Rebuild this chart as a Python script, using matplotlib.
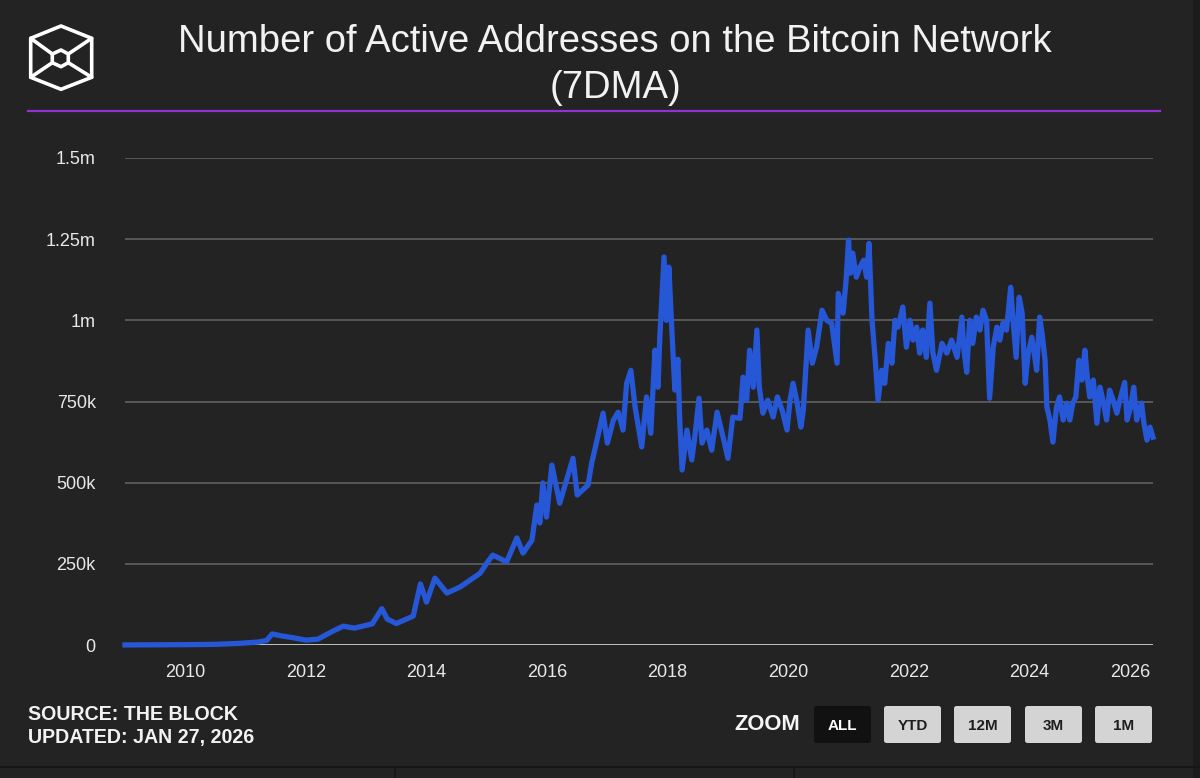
import numpy as np
import matplotlib
matplotlib.use("Agg")
import matplotlib.pyplot as plt
from matplotlib.patches import FancyBboxPatch, Polygon, Rectangle

plt.rcParams['font.family'] = ['Liberation Sans', 'DejaVu Sans']

# 数値はグラフから読み取った概算値（年は小数表記、値は千アドレス）
years = [2009.0, 2009.5, 2010.0, 2010.5, 2010.9, 2011.2, 2011.35, 2011.44, 2011.6, 2011.8,
         2012.0, 2012.2, 2012.45, 2012.62, 2012.8, 2013.1, 2013.26, 2013.35, 2013.5, 2013.78,
         2013.9, 2014.0, 2014.14, 2014.34, 2014.56, 2014.89, 2015.0, 2015.1, 2015.33, 2015.5,
         2015.6, 2015.75, 2015.83, 2015.88, 2015.93, 2015.99, 2016.08, 2016.21, 2016.43, 2016.5,
         2016.68, 2016.74, 2016.79, 2016.93, 2017.0, 2017.1, 2017.18, 2017.26, 2017.32, 2017.39,
         2017.46, 2017.57, 2017.65, 2017.72, 2017.79, 2017.84, 2017.87, 2017.94, 2017.98, 2018.02,
         2018.07, 2018.12, 2018.17, 2018.2, 2018.24, 2018.32, 2018.4, 2018.45, 2018.52, 2018.57,
         2018.65, 2018.73, 2018.82, 2018.92, 2019.0, 2019.08, 2019.2, 2019.25, 2019.31, 2019.36,
         2019.42, 2019.48, 2019.52, 2019.58, 2019.66, 2019.75, 2019.82, 2019.9, 2019.98, 2020.03,
         2020.08, 2020.14, 2020.21, 2020.25, 2020.33, 2020.4, 2020.47, 2020.56, 2020.64, 2020.72,
         2020.81, 2020.83, 2020.91, 2020.96, 2021.0, 2021.03, 2021.07, 2021.13, 2021.19, 2021.25,
         2021.3, 2021.34, 2021.39, 2021.44, 2021.49, 2021.55, 2021.6, 2021.66, 2021.72, 2021.77,
         2021.82, 2021.9, 2021.96, 2022.02, 2022.07, 2022.13, 2022.18, 2022.23, 2022.29, 2022.35,
         2022.4, 2022.46, 2022.55, 2022.63, 2022.71, 2022.8, 2022.88, 2022.91, 2022.96, 2023.01,
         2023.06, 2023.12, 2023.18, 2023.23, 2023.29, 2023.34, 2023.4, 2023.46, 2023.51, 2023.56,
         2023.62, 2023.69, 2023.72, 2023.78, 2023.83, 2023.88, 2023.93, 2023.98, 2024.04, 2024.09,
         2024.12, 2024.17, 2024.21, 2024.26, 2024.29, 2024.34, 2024.39, 2024.45, 2024.5, 2024.56,
         2024.62, 2024.67, 2024.72, 2024.77, 2024.82, 2024.87, 2024.92, 2024.96, 2025.0, 2025.06,
         2025.12, 2025.17, 2025.22, 2025.28, 2025.33, 2025.39, 2025.45, 2025.5, 2025.58, 2025.62,
         2025.68, 2025.73, 2025.78, 2025.86, 2025.9, 2025.95, 2026.0, 2026.05]
active_k = [0.2, 0.5, 1, 2, 5, 9, 14, 34, 28, 22,
            15, 18, 43, 58, 52, 65, 112, 80, 66, 89,
            188, 132, 206, 160, 179, 221, 252, 277, 256, 330,
            283, 323, 431, 376, 499, 394, 554, 437, 575, 462,
            493, 560, 600, 714, 622, 693, 717, 662, 806, 846,
            733, 610, 764, 652, 908, 794, 948, 1195, 1000, 1164,
            970, 785, 880, 693, 539, 662, 570, 640, 760, 622,
            662, 600, 717, 640, 575, 702, 698, 825, 754, 908,
            794, 970, 794, 714, 754, 702, 764, 723, 662, 754,
            806, 754, 671, 723, 970, 868, 917, 1031, 1000, 991,
            868, 1083, 1022, 1124, 1247, 1145, 1207, 1133, 1164, 1185,
            1133, 1237, 1000, 886, 754, 846, 806, 929, 868, 1000,
            979, 1041, 917, 1000, 939, 979, 899, 970, 886, 1053,
            899, 846, 929, 899, 939, 886, 1010, 917, 840, 1000,
            929, 1010, 970, 1031, 1000, 760, 917, 979, 939, 991,
            970, 1102, 1022, 886, 1071, 1022, 806, 899, 948, 886,
            846, 1010, 960, 877, 733, 693, 625, 733, 764, 693,
            745, 693, 745, 764, 877, 816, 908, 825, 764, 816,
            683, 794, 754, 693, 785, 754, 714, 754, 809, 693,
            733, 794, 693, 745, 683, 631, 671, 640]

y_ticks = [0, 250e3, 500e3, 750e3, 1e6, 1.25e6, 1.5e6]
y_tick_labels = ['0', '250k', '500k', '750k', '1m', '1.25m', '1.5m']
x_ticks = [2010, 2012, 2014, 2016, 2018, 2020, 2022, 2024, 2026]
zoom_buttons = ['ALL', 'YTD', '12M', '3M', '1M']

bg = '#232323'
W, H = 1200, 778

fig = plt.figure(figsize=(W / 100, H / 100), dpi=100, facecolor=bg)

# 描画領域
ax = fig.add_axes([125 / W, 1 - 645 / H, (1153 - 125) / W, (645 - 158) / H])
ax.set_facecolor(bg)
for s in ax.spines.values():
    s.set_visible(False)
for yt in y_ticks[1:]:
    ax.axhline(yt, color='#5c5c5c', lw=1.3, zorder=1)
ax.axhline(0, color='#cfcfcf', lw=2.0, zorder=1)
ax.plot(years, np.array(active_k) * 1000, color='#2657d6', lw=3.8,
        solid_joinstyle='round', zorder=3, clip_on=False)
ax.set_xlim(2009.0, 2026.05)
ax.set_ylim(0, 1.5e6)
ax.set_yticks(y_ticks)
ax.set_yticklabels(y_tick_labels)
ax.set_xticks(x_ticks)
ax.set_xticklabels([str(x) for x in x_ticks])
ax.tick_params(axis='y', length=0, pad=21, labelsize=13, labelcolor='#e8e8e8')
ax.tick_params(axis='x', length=0, pad=14, labelsize=13, labelcolor='#e8e8e8')
ax.get_xticklabels()[-1].set_horizontalalignment('right')

# 装飾用のオーバーレイ（ピクセル座標）
ov = fig.add_axes([0, 0, 1, 1], facecolor='none')
ov.set_xlim(0, W)
ov.set_ylim(H, 0)
ov.axis('off')

ov.text(615, 42, 'Number of Active Addresses on the Bitcoin Network', ha='center', va='center',
        fontsize=27.5, color='#f2f2f2')
ov.text(615, 88, '(7DMA)', ha='center', va='center', fontsize=27.5, color='#f2f2f2')
ov.plot([28, 1160], [111, 111], color='#9131d6', lw=1.6)

# ロゴ
outer = [(61, 26), (91.7, 38.3), (91.7, 77.3), (61, 89.3), (30.7, 77.3), (30.7, 38.3)]
inner = [(61, 50), (68.3, 54), (68.3, 62.7), (61, 66.7), (52.3, 62.7), (52.3, 54)]
ov.add_patch(Polygon(outer, closed=True, fill=False, ec='white', lw=2.6, joinstyle='round'))
ov.add_patch(Polygon(inner, closed=True, fill=False, ec='white', lw=2.6, joinstyle='round'))
for o, i in [(1, 1), (2, 2), (4, 4), (5, 5)]:
    ov.plot([outer[o][0], inner[i][0]], [outer[o][1], inner[i][1]], color='white', lw=2.6,
            solid_capstyle='round')

ov.text(28, 714, 'SOURCE: THE BLOCK', ha='left', va='center', fontsize=14.1,
        fontweight='bold', color='#f2f2f2')
ov.text(28, 738, 'UPDATED: JAN 27, 2026', ha='left', va='center', fontsize=14.1,
        fontweight='bold', color='#f2f2f2')

# ズームボタン
ov.text(767, 724, 'ZOOM', ha='center', va='center', fontsize=15.8, fontweight='bold',
        color='#f5f5f5')
btn_x = [812, 882, 952, 1023, 1093]
for i, (lab, bx) in enumerate(zip(zoom_buttons, btn_x)):
    fc = '#111111' if i == 0 else '#d4d4d4'
    tc = '#ffffff' if i == 0 else '#1e1e1e'
    ov.add_patch(FancyBboxPatch((bx + 2, 706), 57, 37, boxstyle='round,pad=0,rounding_size=2.5',
                                fc=fc, ec='none'))
    ov.text(bx + 30.5, 726, lab, ha='center', va='center', fontsize=11, fontweight='bold',
            color=tc)

# 下端の区切り線
ov.plot([0, W], [767, 767], color='#161616', lw=1.5)
ov.plot([395, 395], [767, H], color='#161616', lw=1.2)
ov.plot([794, 794], [767, H], color='#161616', lw=1.2)
ov.add_patch(Rectangle((1193, 0), 7, H, fc='#1b1b1b', ec='none'))

fig.savefig('out.png', dpi=100, facecolor=bg)
